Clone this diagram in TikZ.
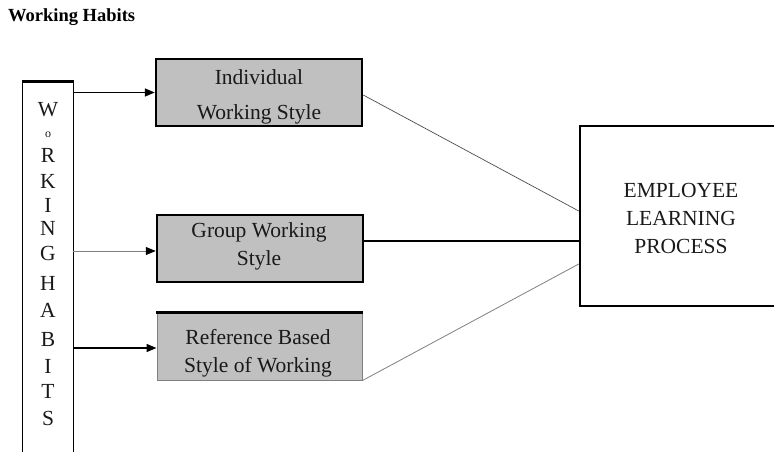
\documentclass[tikz,border=0pt]{standalone}
\usepackage{fontspec}
\setmainfont{Liberation Serif}
\usetikzlibrary{arrows.meta}
\definecolor{boxgray}{HTML}{C0C0C0}
\definecolor{linegray}{HTML}{7F7F7F}
\begin{document}
\begin{tikzpicture}[x=1pt,y=-1pt,
  txt/.style={font=\fontsize{21.5}{28}\selectfont, align=center, inner sep=0pt, text=black!90},
  gbox/.style={fill=boxgray, draw=black, line width=2.5pt, minimum width=206pt, minimum height=67pt, inner sep=0pt},
  tip/.style={-{Triangle[length=10pt,width=8pt,color=black]}}
]
\useasboundingbox (0,0) rectangle (774,452);

% title
\node[anchor=base west, font=\bfseries\fontsize{18.5}{22}\selectfont, inner sep=0pt] (title) at (8,22) {Working Habits};

% left open box
\node[minimum width=50pt, minimum height=390pt, inner sep=0pt] (wh) at (48,277) {};
\draw[line width=0.9pt] (wh.south west) -- (wh.north west);
\draw[line width=0.9pt] (wh.north east) -- (wh.south east);
\draw[line width=3pt] ([xshift=-0.45pt]wh.north west) -- ([xshift=0.45pt]wh.north east);

\foreach \l/\y/\s [count=\i] in {W/110/21.5, o/135/12, R/155/21.5, K/181/21.5, I/205/21.5, N/228/21.5, G/253/21.5, H/283/21.5, A/310/21.5, B/339/21.5, I/366/21.5, T/391/21.5, S/418/21.5}
  \node[inner sep=0pt, font=\fontsize{\s}{\s}\selectfont, text=black!90] (L\i) at (48,\y) {\l};

% boxes
\node[gbox] (ind) at (259,92.5) {};
\node[txt] (indt) at (259,97) {Individual\\[7pt]Working Style};

\node[gbox] (grp) at (260,248.5) {};
\node[txt] (grpt) at (259,246) {Group Working\\Style};

\node[fill=boxgray, draw=linegray, line width=1pt, minimum width=205pt, minimum height=67pt, inner sep=0pt] (ref) at (259.5,346.5) {};
\draw[line width=2.5pt] ([xshift=-0.5pt]ref.north west) -- ([xshift=0.5pt]ref.north east);
\node[txt] (reft) at (258,353) {Reference Based\\Style of Working};

\node[draw=black, line width=2.5pt, minimum width=212pt, minimum height=180pt, inner sep=0pt] (emp) at (686,216) {};
\node[txt] (empt) at (681,218) {EMPLOYEE\\LEARNING\\PROCESS};

% arrows from the left box
\draw[tip, line width=1.5pt] (ind.west -| wh.east) -- (ind.west);
\draw[tip, line width=0.9pt, draw=linegray] ([yshift=-2.5pt]grp.west -| wh.east) -- ([yshift=-2.5pt]grp.west);
\draw[tip, line width=1.5pt] ([yshift=-1.5pt]ref.west -| wh.east) -- ([yshift=-1.5pt]ref.west);

% connectors to the employee box
\draw[line width=0.7pt, draw=black!70] ([yshift=-2.5pt]ind.east) -- ([yshift=5pt]emp.west);
\draw[line width=2.5pt] ([yshift=7.5pt]grp.east) -- ([yshift=7.5pt]grp.east -| emp.west);
\draw[line width=0.8pt, draw=linegray] (ref.south east) -- ([yshift=-48pt]emp.west);
\end{tikzpicture}
\end{document}
